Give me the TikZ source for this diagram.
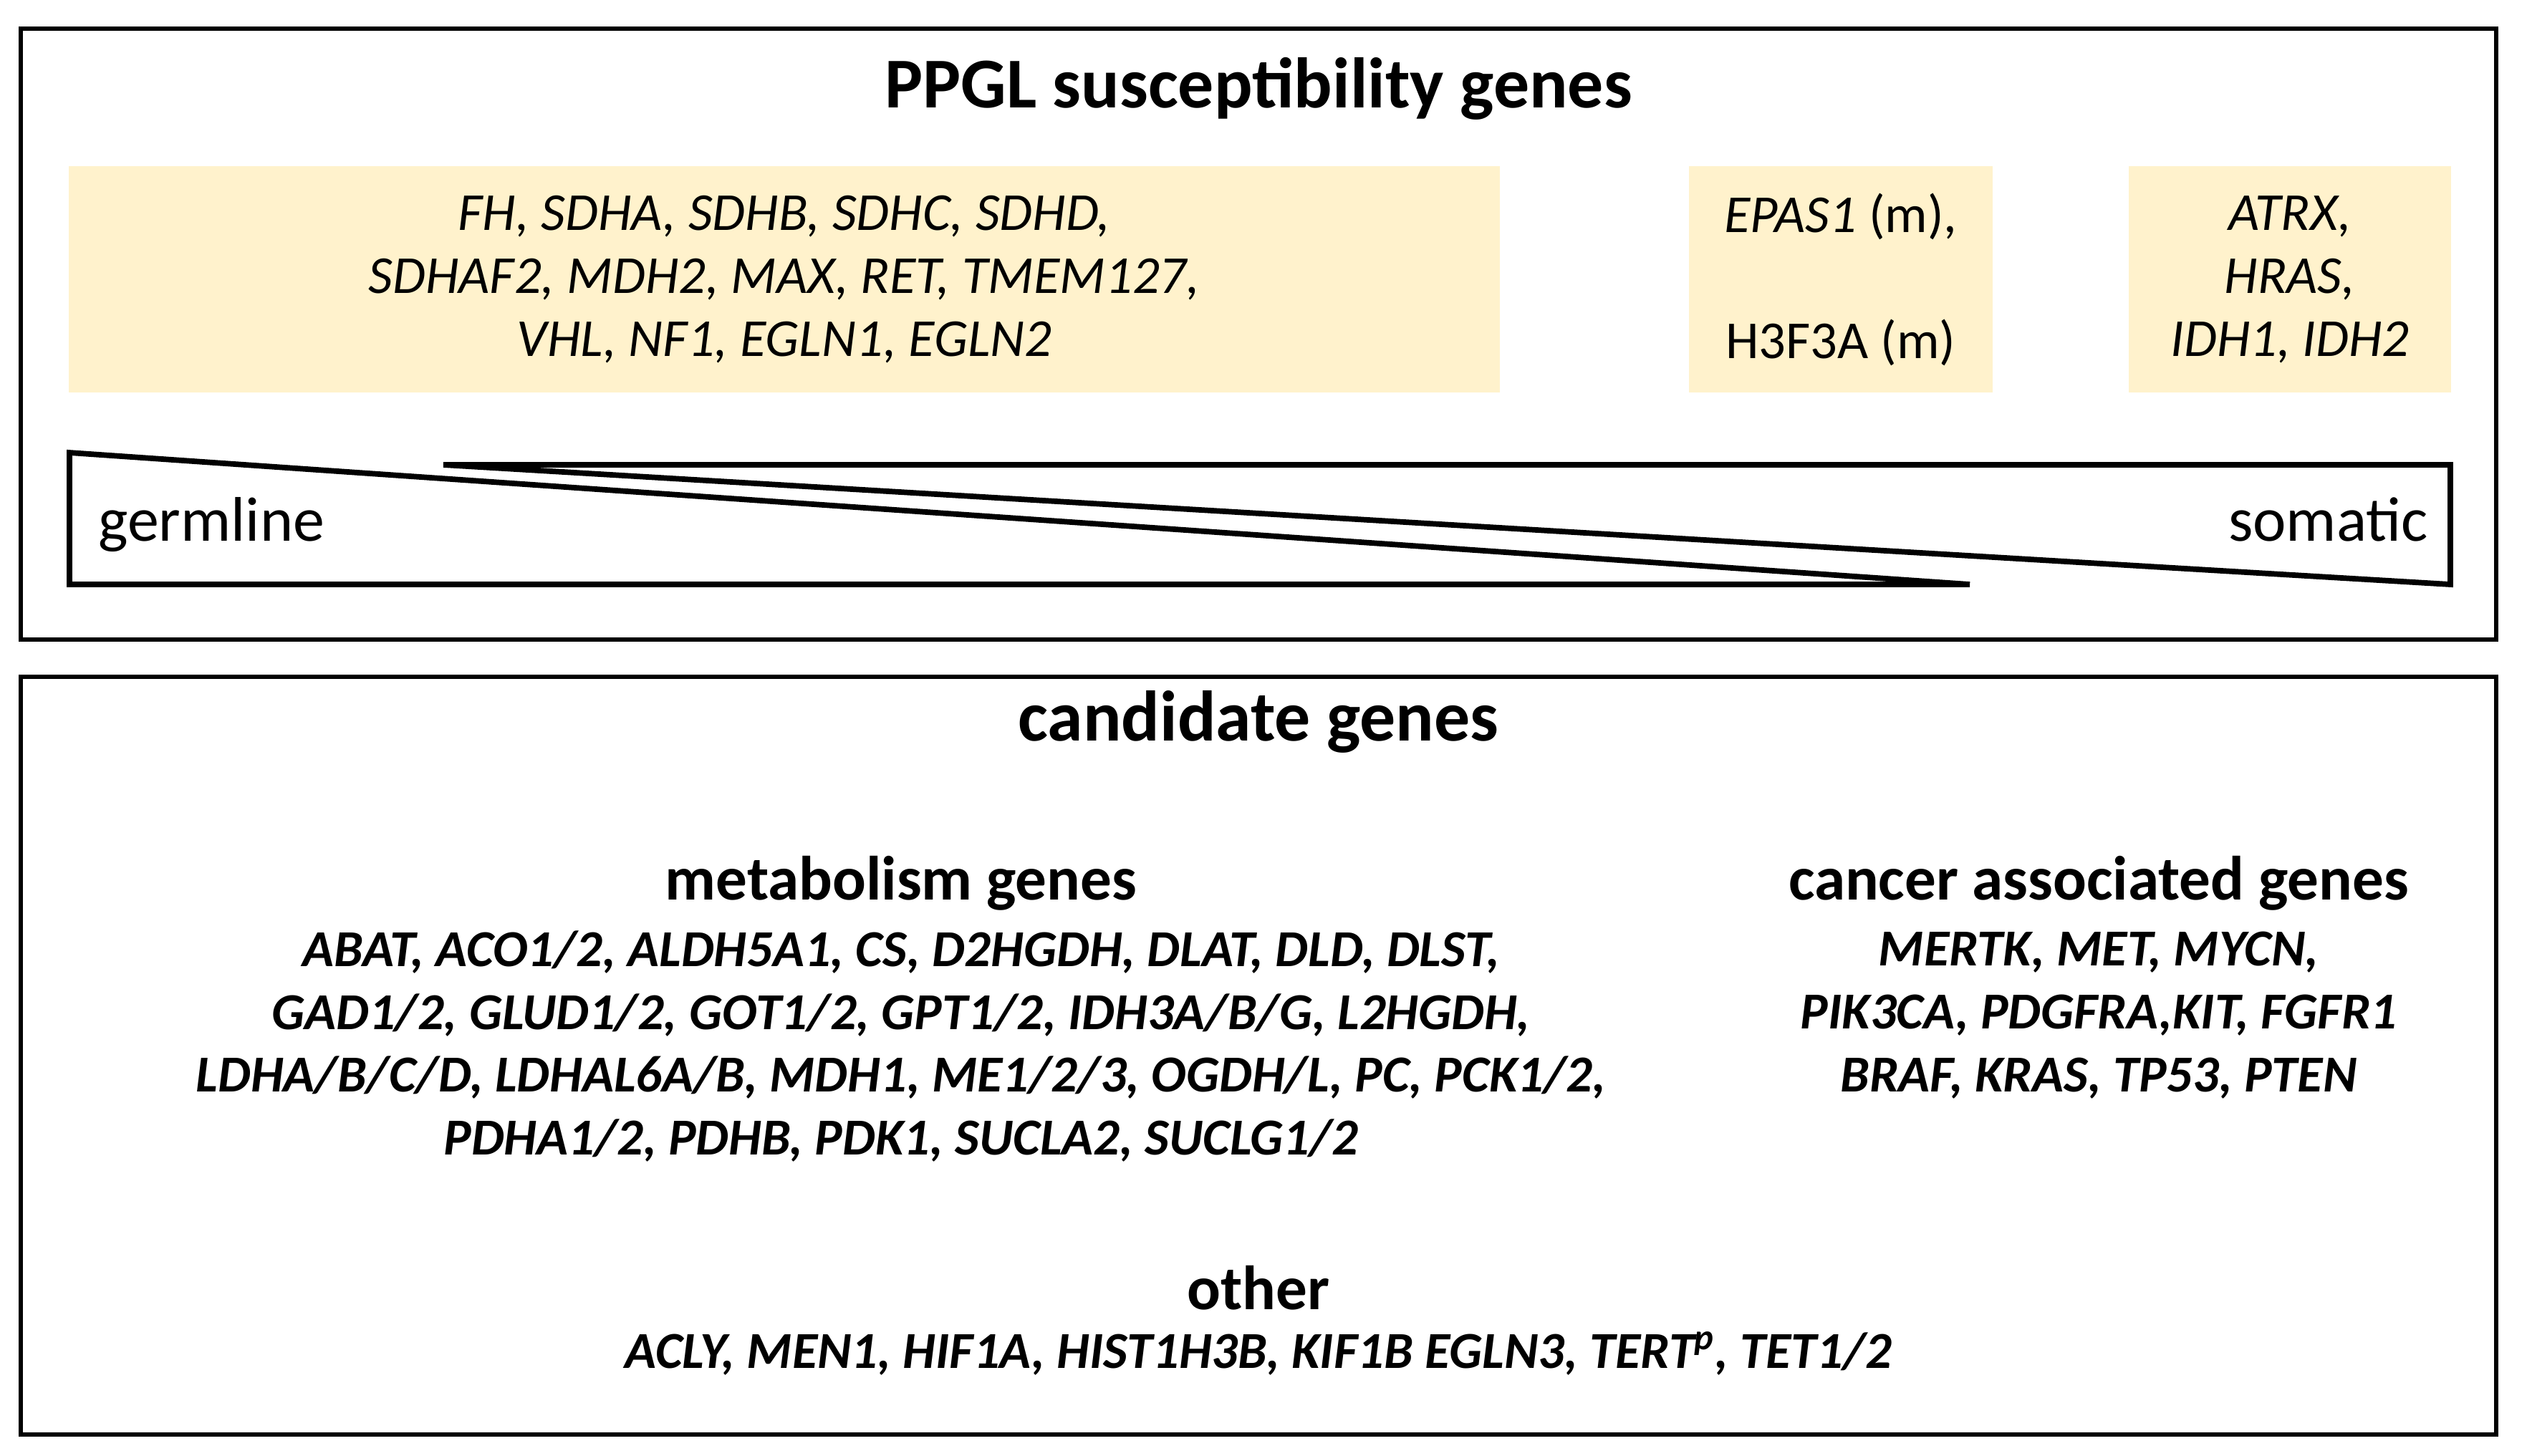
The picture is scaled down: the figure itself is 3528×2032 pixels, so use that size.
\documentclass[tikz,border=0pt]{standalone}
\usepackage{fontspec}
\setmainfont{Carlito}
\definecolor{genefill}{RGB}{255,242,204}
\tikzset{
  frame/.style={draw, line width=1.7pt},
  wedge/.style={draw, line width=2.2pt},
  genebox/.style={fill=genefill, inner sep=0pt, align=center,
    font=\fontsize{21.2}{25}\selectfont\itshape},
  heading/.style={font=\fontsize{28.4}{32}\selectfont\bfseries},
  subheading/.style={font=\fontsize{24.8}{29}\selectfont\bfseries},
  genelist/.style={align=center, font=\fontsize{20.6}{25}\selectfont\bfseries\itshape},
  sidelabel/.style={font=\fontsize{25}{29}\selectfont}
}
\begin{document}
\begin{tikzpicture}[x=0.01cm, y=-0.01cm]
\useasboundingbox (0,0) rectangle (3528,2032);
% upper panel
\draw[frame] (29,40) rectangle (3485,893);
\node[heading] (ppgl) at (1757,124) {PPGL susceptibility genes};
\node[genebox, minimum width=19.96cm, minimum height=3.15cm] (mixed) at (1095,390)
  {FH, SDHA, SDHB, SDHC, SDHD,\\ SDHAF2, MDH2, MAX, RET, TMEM127,\\ VHL, NF1, EGLN1, EGLN2};
\node[genebox, minimum width=4.23cm, minimum height=3.15cm] (mosaic) at (2570,390)
  {\textit{EPAS1} \upshape(m),\\ \mbox{}\\ \upshape H3F3A (m)};
\node[genebox, minimum width=4.5cm, minimum height=3.15cm] (somgenes) at (3197,390)
  {ATRX,\\ HRAS,\\ IDH1, IDH2};
\draw[wedge] (97,632) -- (97,816) -- (2750,816) -- cycle;
\draw[wedge] (619,649) -- (3421,649) -- (3421,816) -- cycle;
\node[sidelabel, anchor=west] (germ) at (125,733) {germline};
\node[sidelabel, anchor=east] (soma) at (3402,725) {somatic};
% lower panel
\draw[frame] (29,945) rectangle (3485,2003);
\node[heading] (cand) at (1757,1008) {candidate genes};
\node[subheading] (metab) at (1258,1233) {metabolism genes};
\node[genelist] (metablist) at (1258,1461)
  {ABAT, ACO1/2, ALDH5A1, CS, D2HGDH, DLAT, DLD, DLST,\\
   GAD1/2, GLUD1/2, GOT1/2, GPT1/2, IDH3A/B/G, L2HGDH,\\
   LDHA/B/C/D, LDHAL6A/B, MDH1, ME1/2/3, OGDH/L, PC, PCK1/2,\\
   PDHA1/2, PDHB, PDK1, SUCLA2, SUCLG1/2};
\node[subheading] (cancer) at (2930,1233) {cancer associated genes};
\node[genelist] (cancerlist) at (2930,1418)
  {MERTK,\ MET, MYCN,\\ PIK3CA,\ PDGFRA,KIT, FGFR1\\ BRAF, KRAS, TP53, PTEN};
\node[subheading] (other) at (1757,1798) {other};
\node[genelist] (otherlist) at (1757,1890)
  {ACLY, MEN1, HIF1A, HIST1H3B, KIF1B EGLN3, TERT\textsuperscript{p}, TET1/2};
\end{tikzpicture}
\end{document}
